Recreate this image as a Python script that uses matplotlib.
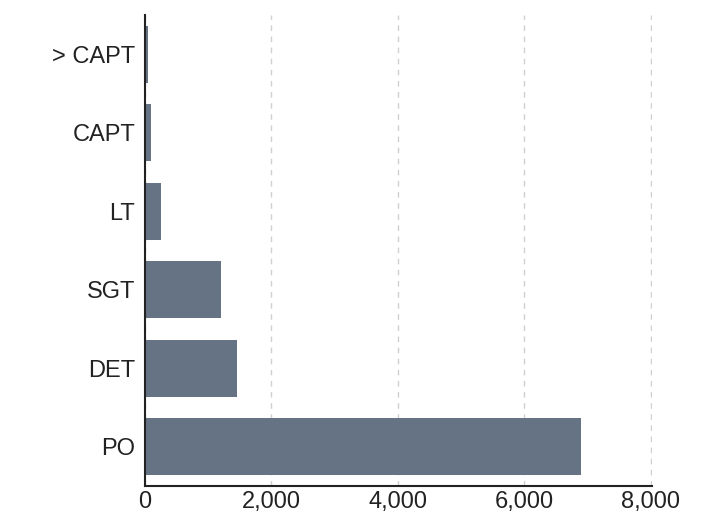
import matplotlib
matplotlib.use('Agg')
import matplotlib.pyplot as plt
import numpy as np

# ranks, bottom to top
ranks = ['PO', 'DET', 'SGT', 'LT', 'CAPT', '> CAPT']
counts = [6890, 1455, 1200, 250, 95, 45]
x_ticks = [0, 2000, 4000, 6000, 8000]

plt.rcParams['font.family'] = ['Liberation Sans Narrow', 'Liberation Sans', 'DejaVu Sans']

fig = plt.figure(figsize=(7.16, 5.18), dpi=100)
ax = fig.add_axes([0.2025, 0.062, 0.7085, 0.909])

y = np.arange(len(ranks))
ax.barh(y, counts, height=0.73, color='#667385', zorder=3)

ax.set_ylim(-0.5, len(ranks) - 0.5)
ax.set_xlim(0, 8025)
ax.set_yticks(y)
ax.set_yticklabels(ranks)
ax.set_xticks(x_ticks)
ax.set_xticklabels(['{:,}'.format(v) for v in x_ticks])
ax.tick_params(axis='y', length=0, labelsize=17, colors='#222222', pad=7)
ax.tick_params(axis='x', length=0, labelsize=17, colors='#222222', pad=4)

ax.grid(axis='x', linestyle=(0, (4, 4)), color='#d0d0d0', linewidth=1, zorder=0)
for s in ['top', 'right']:
    ax.spines[s].set_visible(False)
for s in ['left', 'bottom']:
    ax.spines[s].set_color('#222222')
    ax.spines[s].set_linewidth(1.5)
    ax.spines[s].set_zorder(4)

fig.savefig('out.png', dpi=100)
